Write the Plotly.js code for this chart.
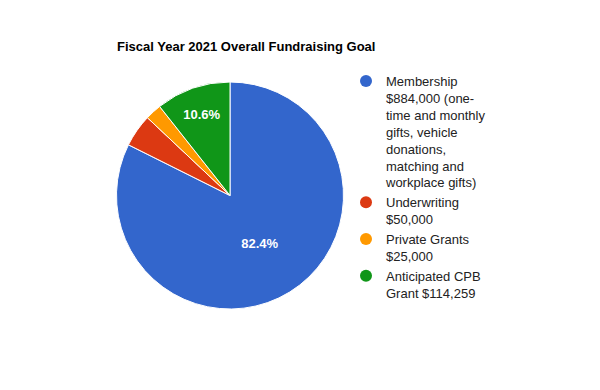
<!DOCTYPE html>
<html><head><meta charset="utf-8">
<script src="https://cdn.plot.ly/plotly-3.0.1.min.js"></script>
<style>body{margin:0}#c{width:600px;height:390px}</style>
</head><body><div id="c"></div>
<script>
const categories = ["Membership", "Underwriting", "Private Grants", "Anticipated CPB Grant"];
const values = [884000, 50000, 25000, 114259];
const legendLabels = [
  "Membership<br>$884,000 (one-<br>time and monthly<br>gifts, vehicle<br>donations,<br>matching and<br>workplace gifts)",
  "Underwriting<br>$50,000",
  "Private Grants<br>$25,000",
  "Anticipated CPB<br>Grant $114,259"
];
const colors = ["#3366cc", "#dc3912", "#ff9900", "#109618"];
const showPct = [true, false, false, true];

const W = 600, H = 390;
const pie = {
  type: 'pie',
  labels: categories,
  values: values,
  sort: false,
  direction: 'clockwise',
  rotation: 0,
  marker: {colors: colors, line: {color: '#ffffff', width: 1}},
  texttemplate: showPct.map(s => s ? '%{percent:.1%}' : ''),
  textposition: showPct.map(s => s ? 'inside' : 'none'),
  insidetextorientation: 'horizontal',
  textfont: {color: '#ffffff', size: 13, weight: 'bold', family: 'Liberation Sans, Arial, sans-serif'},
  showlegend: false,
  hoverinfo: 'label+value+percent',
  domain: {x: [116 / W, 344 / W], y: [1 - 309 / H, 1 - 82 / H]}
};
const legendTraces = categories.map((c, i) => ({
  type: 'scatter', mode: 'markers', x: [null], y: [null],
  name: legendLabels[i],
  marker: {color: colors[i], size: 12, symbol: 'circle'},
  showlegend: true, hoverinfo: 'skip'
}));
const layout = {
  width: W, height: H,
  margin: {l: 0, r: 0, t: 0, b: 0},
  paper_bgcolor: '#ffffff', plot_bgcolor: '#ffffff',
  font: {family: 'Liberation Sans, Arial, sans-serif', color: '#222222', size: 13},
  title: {text: 'Fiscal Year 2021 Overall Fundraising Goal', x: 117 / W, xanchor: 'left', y: 1 - 46 / H, yanchor: 'middle',
          font: {size: 13, weight: 'bold', color: '#000000', family: 'Liberation Sans, Arial, sans-serif'}},
  xaxis: {visible: false, domain: [0.9, 1]},
  yaxis: {visible: false, domain: [0.9, 1]},
  showlegend: true,
  legend: {x: 346 / W, xanchor: 'left', y: 1 - 66 / H, yanchor: 'top', bgcolor: 'rgba(0,0,0,0)', valign: 'top',
           font: {size: 13, color: '#222222'}, itemwidth: 30, tracegroupgap: 0}
};
Plotly.newPlot('c', [pie].concat(legendTraces), layout, {displayModeBar: false, staticPlot: true});
</script></body></html>
